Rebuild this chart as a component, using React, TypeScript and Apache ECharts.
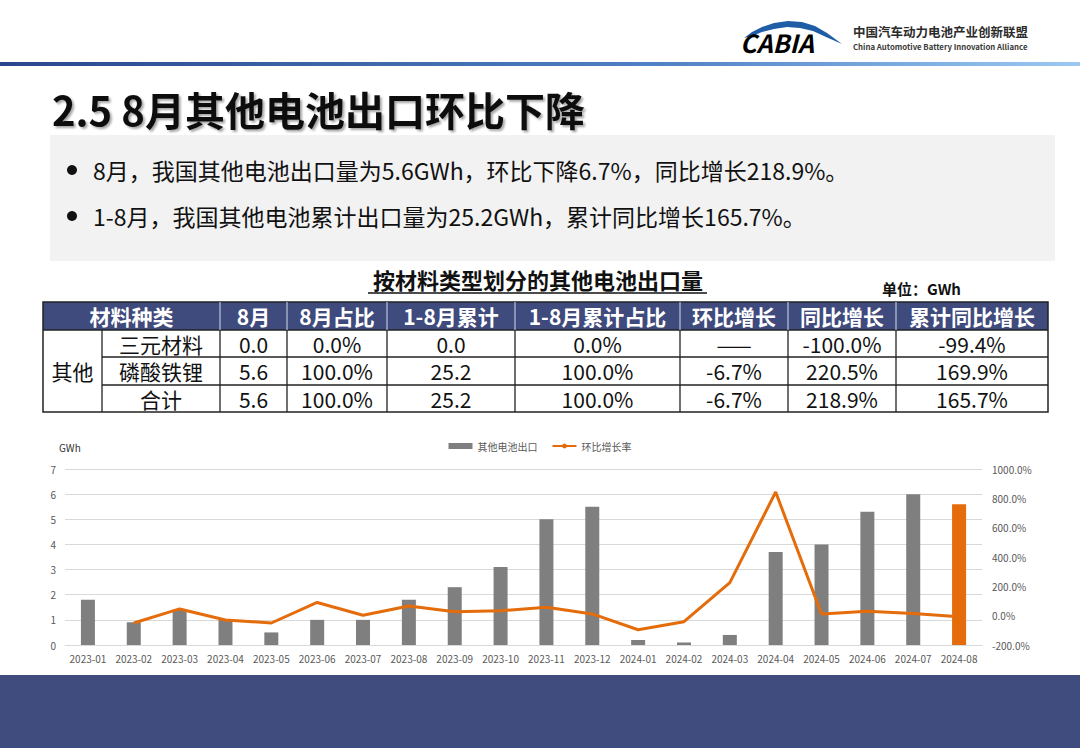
import React, { useEffect, useRef } from "react";
import * as echarts from "echarts";

const months = [
  "2023-01", "2023-02", "2023-03", "2023-04", "2023-05", "2023-06", "2023-07",
  "2023-08", "2023-09", "2023-10", "2023-11", "2023-12", "2024-01", "2024-02",
  "2024-03", "2024-04", "2024-05", "2024-06", "2024-07", "2024-08",
];
const exportGWh = [1.8, 0.9, 1.4, 1.0, 0.5, 1.0, 1.0, 1.8, 2.3, 3.1, 5.0, 5.5, 0.2, 0.1, 0.4, 3.7, 4.0, 5.3, 6.0, 5.6];
const momRate = [null, -50, 46, -29, -50, 90, 3, 66, 27, 34, 57, 12, -96, -41, 225, 843, 12, 30, 14, -6.7];
const leftTicks = { min: 0, max: 7, interval: 1 };
const rightTicks = { min: -200, max: 1000, interval: 200 };

const titleText = "2.5 8月其他电池出口环比下降";
const bullets = [
  "8月，我国其他电池出口量为5.6GWh，环比下降6.7%，同比增长218.9%。",
  "1-8月，我国其他电池累计出口量为25.2GWh，累计同比增长165.7%。",
];
const tableTitle = "按材料类型划分的其他电池出口量";
const unitText = "单位：GWh";
const tableHeaders = ["材料种类", "8月", "8月占比", "1-8月累计", "1-8月累计占比", "环比增长", "同比增长", "累计同比增长"];
const tableGroup = "其他";
const tableRowNames = ["三元材料", "磷酸铁锂", "合计"];
const rowTernary = ["0.0", "0.0%", "0.0", "0.0%", "——", "-100.0%", "-99.4%"];
const rowLFP = ["5.6", "100.0%", "25.2", "100.0%", "-6.7%", "220.5%", "169.9%"];
const rowTotal = ["5.6", "100.0%", "25.2", "100.0%", "-6.7%", "218.9%", "165.7%"];
const tableRows = [rowTernary, rowLFP, rowTotal];

const FONT = "'Noto Sans CJK SC', 'Noto Sans', sans-serif";
const NAVY = "#3f4a7d";
const ORANGE = "#e46c0a";

function buildGraphics() {
  const g: any[] = [];
  // header line
  g.push({
    type: "rect",
    shape: { x: 0, y: 62, width: 1080, height: 4 },
    style: {
      fill: {
        type: "linear", x: 0, y: 0, x2: 1, y2: 0,
        colorStops: [
          { offset: 0, color: "#2b478c" },
          { offset: 0.6, color: "#4f7fc4" },
          { offset: 1, color: "#9cc9f2" },
        ],
      },
    },
  });
  // logo swoosh
  g.push({
    type: "polygon",
    shape: {
      points: [
        [744, 38], [752, 32], [762, 27], [774, 23], [788, 21], [802, 22], [815, 26],
        [827, 33], [842, 44], [826, 37], [813, 31], [800, 28], [787, 27], [774, 29],
        [762, 32], [752, 36],
      ],
    },
    style: { fill: "#1f5ea6" },
  });
  g.push({
    type: "text",
    style: {
      x: 740, y: 42, text: "CABIA", font: `italic bold 25px ${FONT}`,
      fill: {
        type: "linear", x: 0, y: 0, x2: 1, y2: 0,
        colorStops: [{ offset: 0, color: "#16a596" }, { offset: 1, color: "#1f6bb3" }],
      },
      verticalAlign: "middle",
    },
  });
  g.push({
    type: "text",
    style: { x: 853, y: 31, text: "中国汽车动力电池产业创新联盟", font: `bold 12.5px ${FONT}`, fill: "#2b2b2b", verticalAlign: "middle" },
  });
  g.push({
    type: "text",
    style: { x: 853, y: 46, text: "China Automotive Battery Innovation Alliance", font: `bold 7.8px ${FONT}`, fill: "#3a3a3a", verticalAlign: "middle" },
  });
  // title
  g.push({
    type: "text",
    style: {
      x: 52, y: 109, text: titleText, font: `bold 40px ${FONT}`, fill: "#111",
      verticalAlign: "middle",
      textShadowColor: "rgba(0,0,0,0.35)", textShadowOffsetX: 2, textShadowOffsetY: 2, textShadowBlur: 2,
    },
  });
  // gray box
  g.push({ type: "rect", shape: { x: 50, y: 135, width: 1005, height: 126 }, style: { fill: "#f2f2f2" } });
  bullets.forEach((b, i) => {
    const y = 170 + i * 46;
    g.push({ type: "circle", shape: { cx: 72, cy: y, r: 5 }, style: { fill: "#111" } });
    g.push({ type: "text", style: { x: 93, y, text: b, font: `23px ${FONT}`, fill: "#111", verticalAlign: "middle" } });
  });
  // table title
  g.push({ type: "text", style: { x: 538, y: 279, text: tableTitle, font: `bold 22px ${FONT}`, fill: "#111", align: "center", verticalAlign: "middle" } });
  g.push({ type: "line", shape: { x1: 368, y1: 293, x2: 707, y2: 293 }, style: { stroke: "#111", lineWidth: 1.5 } });
  g.push({ type: "text", style: { x: 882, y: 288, text: unitText, font: `bold 15px ${FONT}`, fill: "#111", verticalAlign: "middle" } });

  // table
  const cols = [43, 220, 287, 387, 515, 680, 788, 896, 1048];
  const split = 102;
  const rowsY = [302, 330, 357, 385, 412];
  g.push({ type: "rect", shape: { x: 43, y: 302, width: 1005, height: 28 }, style: { fill: NAVY } });
  tableHeaders.forEach((h, i) => {
    g.push({
      type: "text",
      style: {
        x: (cols[i] + cols[i + 1]) / 2, y: 316, text: h, font: `bold 21px ${FONT}`,
        fill: "#fff", align: "center", verticalAlign: "middle",
      },
    });
  });
  // group cell
  g.push({ type: "text", style: { x: (43 + split) / 2, y: (330 + 412) / 2, text: tableGroup, font: `21px ${FONT}`, fill: "#111", align: "center", verticalAlign: "middle" } });
  tableRowNames.forEach((name, r) => {
    const cy = (rowsY[r + 1] + rowsY[r + 2]) / 2;
    g.push({ type: "text", style: { x: (split + cols[1]) / 2, y: cy, text: name, font: `21px ${FONT}`, fill: "#111", align: "center", verticalAlign: "middle" } });
    tableRows[r].forEach((v, c) => {
      g.push({
        type: "text",
        style: { x: (cols[c + 1] + cols[c + 2]) / 2, y: cy, text: v, font: `21px ${FONT}`, fill: "#111", align: "center", verticalAlign: "middle" },
      });
    });
  });
  const ls = { stroke: "#222", lineWidth: 1.3 };
  // outer border
  g.push({ type: "rect", shape: { x: 43, y: 302, width: 1005, height: 110 }, style: { fill: "none", stroke: "#222", lineWidth: 1.5 } });
  g.push({ type: "line", shape: { x1: 43, y1: 330, x2: 1048, y2: 330 }, style: ls });
  g.push({ type: "line", shape: { x1: split, y1: 357, x2: 1048, y2: 357 }, style: ls });
  g.push({ type: "line", shape: { x1: split, y1: 385, x2: 1048, y2: 385 }, style: ls });
  g.push({ type: "line", shape: { x1: split, y1: 330, x2: split, y2: 412 }, style: ls });
  cols.slice(1, -1).forEach((x) => {
    g.push({ type: "line", shape: { x1: x, y1: 330, x2: x, y2: 412 }, style: ls });
    g.push({ type: "line", shape: { x1: x, y1: 302, x2: x, y2: 330 }, style: { stroke: "#d8dbe8", lineWidth: 1 } });
  });

  // chart unit
  g.push({ type: "text", style: { x: 59, y: 447, text: "GWh", font: `10px ${FONT}`, fill: "#333", verticalAlign: "middle" } });

  // bottom band
  g.push({ type: "rect", shape: { x: 0, y: 675, width: 1080, height: 73 }, style: { fill: "#414c7e" } });
  return g;
}

export default function App() {
  const ref = useRef<HTMLDivElement>(null);
  useEffect(() => {
    if (!ref.current) return;
    const chart = echarts.init(ref.current, null, { renderer: "svg" });
    chart.setOption({
      animation: false,
      backgroundColor: "#fff",
      textStyle: { fontFamily: FONT },
      legend: {
        top: 436,
        left: "center",
        itemWidth: 24,
        itemHeight: 6,
        itemGap: 14,
        textStyle: { fontSize: 10, color: "#595959" },
        data: [{ name: "其他电池出口", icon: "rect" }, { name: "环比增长率" }],
      },
      grid: { left: 65, right: 98, top: 469, bottom: 103, containLabel: false },
      xAxis: {
        type: "category",
        data: months,
        axisLine: { lineStyle: { color: "#d9d9d9" } },
        axisTick: { show: false },
        axisLabel: { color: "#595959", fontSize: 10, margin: 8, interval: 0 },
      },
      yAxis: [
        {
          type: "value",
          ...leftTicks,
          axisLine: { show: false },
          axisTick: { show: false },
          splitLine: { lineStyle: { color: "#d9d9d9" } },
          axisLabel: { color: "#595959", fontSize: 10, margin: 9 },
        },
        {
          type: "value",
          ...rightTicks,
          axisLine: { show: false },
          axisTick: { show: false },
          splitLine: { show: false },
          axisLabel: {
            color: "#595959", fontSize: 10, margin: 10,
            formatter: (v: number) => `${v.toFixed(1)}%`,
          },
        },
      ],
      series: [
        {
          name: "其他电池出口",
          type: "bar",
          barWidth: 14,
          itemStyle: { color: "#7f7f7f" },
          data: exportGWh.map((v, i) =>
            i === exportGWh.length - 1 ? { value: v, itemStyle: { color: ORANGE } } : v
          ),
        },
        {
          name: "环比增长率",
          type: "line",
          yAxisIndex: 1,
          symbol: "none",
          itemStyle: { color: ORANGE },
          lineStyle: { color: ORANGE, width: 3 },
          data: momRate,
        },
      ],
      graphic: buildGraphics(),
    });
    return () => chart.dispose();
  }, []);
  return (
    <div
      ref={ref}
      style={{ position: "absolute", left: 0, top: 0, width: 1080, height: 748 }}
    />
  );
}
